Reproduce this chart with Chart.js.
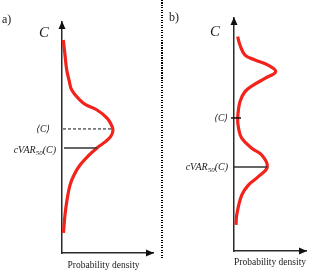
<!DOCTYPE html>
<html><head><meta charset="utf-8">
<script src="https://cdn.jsdelivr.net/npm/chart.js@4/dist/chart.umd.min.js"></script>
<style>
html,body{margin:0;padding:0;background:#fff;}
#wrap{position:relative;width:316px;height:274px;overflow:hidden;background:#fff;}
#ca{position:absolute;left:0;top:0;}
#cb{position:absolute;left:158px;top:0;}
#sep{position:absolute;left:161px;top:0;width:1.5px;height:259px;background:repeating-linear-gradient(to bottom,#000 0px,#000 1px,transparent 1px,transparent 2.5px);}
</style></head><body>
<div id="wrap">
<canvas id="ca" width="158" height="274"></canvas>
<div id="sep"></div>
<canvas id="cb" width="158" height="274"></canvas>
</div>
<script>
// ---- data (C on vertical axis, probability density on horizontal axis) ----
const panelLabels = ['a)', 'b)'];
const costAxisLabel = 'C';
const densityAxisLabel = 'Probability density';
const meanLabel = '\u27E8C\u27E9';
const cvarLabelMain = 'cVAR';
const cvarLabelSub = '50';
const cvarLabelTail = '(C)';

// panel a: single skewed peak
const costA    = [9.22, 8.57, 7.92, 7.49, 7.06, 6.62, 6.41, 6.19, 5.84, 5.58, 5.32, 5.06, 4.81, 4.55, 4.24, 3.81, 3.38, 2.94, 2.29, 1.65, 0.87];
const densityA = [0.014,0.033,0.052,0.077,0.107,0.198,0.264,0.385,0.495,0.538,0.560,0.538,0.473,0.385,0.297,0.198,0.132,0.088,0.055,0.033,0.016];
const meanA = 5.37;
const cvarA = 4.55;

// panel b: bimodal
const costB    = [9.20, 8.84, 8.41, 8.20, 7.98, 7.70, 7.41, 7.12, 6.84, 6.41, 5.70, 5.28, 4.84, 4.41, 4.12, 3.62, 3.19, 2.83, 2.40, 1.55, 1.12];
const densityB = [0.051,0.083,0.153,0.292,0.472,0.579,0.431,0.268,0.153,0.083,0.051,0.063,0.107,0.246,0.385,0.463,0.338,0.199,0.107,0.038,0.028];
const meanB = 5.71;
const cvarB = 3.61;

const costMax = 10;
const densityMax = 1;

function densityAt(costs, dens, c){
  for (let i = 0; i < costs.length - 1; i++){
    const c0 = costs[i], c1 = costs[i+1];
    if ((c <= c0 && c >= c1) || (c >= c0 && c <= c1)){
      const t = (c - c0) / (c1 - c0);
      return dens[i] + t * (dens[i+1] - dens[i]);
    }
  }
  return 0;
}

const decor = {
  id: 'decor',
  afterDraw(chart, args, o){
    const ctx = chart.ctx;
    const {left, right, top, bottom} = chart.chartArea;
    const xs = chart.scales.x, ys = chart.scales.y;
    ctx.save();
    // arrow heads
    ctx.fillStyle = '#111';
    ctx.beginPath();
    ctx.moveTo(left, top - 1); ctx.lineTo(left - 3.5, top + 7); ctx.lineTo(left + 3.5, top + 7);
    ctx.closePath(); ctx.fill();
    ctx.beginPath();
    ctx.moveTo(right + 1, bottom); ctx.lineTo(right - 7, bottom - 3.5); ctx.lineTo(right - 7, bottom + 3.5);
    ctx.closePath(); ctx.fill();

    // mean marker
    const ym = ys.getPixelForValue(o.mean);
    ctx.strokeStyle = '#111';
    ctx.lineWidth = 1;
    if (o.meanStyle === 'dashed'){
      ctx.setLineDash([3, 2]);
      ctx.beginPath();
      ctx.moveTo(left + 1, ym); ctx.lineTo(xs.getPixelForValue(densityAt(o.costs, o.dens, o.mean)), ym);
      ctx.stroke();
      ctx.setLineDash([]);
    } else {
      ctx.lineWidth = 1.5;
      ctx.beginPath();
      ctx.moveTo(left - 3, ym); ctx.lineTo(left + 7, ym);
      ctx.stroke();
    }
    // cVaR line
    const yc = ys.getPixelForValue(o.cvar);
    ctx.strokeStyle = '#333';
    ctx.lineWidth = 1.5;
    ctx.beginPath();
    ctx.moveTo(left + o.cvarStart, yc); ctx.lineTo(xs.getPixelForValue(densityAt(o.costs, o.dens, o.cvar)), yc);
    ctx.stroke();

    // texts
    ctx.fillStyle = '#1a1a1a';
    ctx.textBaseline = 'middle';
    ctx.font = '12px "Liberation Serif", serif';
    ctx.textAlign = 'left';
    ctx.fillText(o.panel, o.panelX, o.panelY);

    ctx.font = 'italic 15px "Liberation Serif", serif';
    ctx.textAlign = 'center';
    ctx.fillText(costAxisLabel, left + o.cLabelDx, o.cLabelY);

    ctx.font = '9.5px "Liberation Serif", serif';
    ctx.fillText(densityAxisLabel, left + o.titleDx, bottom + o.titleDy);

    ctx.textAlign = 'right';
    ctx.font = 'italic 9.5px "Liberation Serif", "DejaVu Serif", serif';
    ctx.fillText(meanLabel, left - o.meanGap, ym + 1);

    // cVAR_50(C) right aligned
    const rightX = left - 6;
    ctx.textAlign = 'left';
    ctx.font = 'italic 10px "Liberation Serif", serif';
    const wTail = ctx.measureText(cvarLabelTail).width;
    const wMain = ctx.measureText(cvarLabelMain).width;
    ctx.font = 'italic 7px "Liberation Serif", serif';
    const wSub = ctx.measureText(cvarLabelSub).width;
    let x0 = rightX - wTail - wSub - wMain;
    const yt = yc + o.cvarTextDy;
    ctx.font = 'italic 10px "Liberation Serif", serif';
    ctx.fillText(cvarLabelMain, x0, yt);
    ctx.font = 'italic 7px "Liberation Serif", serif';
    ctx.fillText(cvarLabelSub, x0 + wMain, yt + 3);
    ctx.font = 'italic 10px "Liberation Serif", serif';
    ctx.fillText(cvarLabelTail, x0 + wMain + wSub, yt);
    ctx.restore();
  }
};

function makeChart(id, costs, dens, pad, extra){
  const pts = costs.map((c, i) => ({x: dens[i], y: c}));
  return new Chart(document.getElementById(id), {
    type: 'scatter',
    data: { datasets: [{
      data: pts, showLine: true, pointRadius: 0, borderColor: '#f2231b',
      borderWidth: 3.2, tension: 0.4, fill: false, clip: 4
    }]},
    options: {
      responsive: false, animation: false,
      layout: { padding: pad },
      plugins: { legend: {display: false}, tooltip: {enabled: false},
        decor: Object.assign({costs: costs, dens: dens}, extra) },
      scales: {
        x: { type: 'linear', min: 0, max: densityMax,
             grid: {display: false, drawTicks: false},
             border: {display: true, color: '#2a2a2a', width: 1.5},
             ticks: {display: false} },
        y: { type: 'linear', min: 0, max: costMax,
             grid: {display: false, drawTicks: false},
             border: {display: true, color: '#2a2a2a', width: 1.5},
             ticks: {display: false} }
      }
    },
    plugins: [decor]
  });
}

makeChart('ca', costA, densityA, {left: 62, right: 5, top: 22, bottom: 21},
  {panel: panelLabels[0], panelX: 2, panelY: 20, mean: meanA, cvar: cvarA, meanStyle: 'dashed',
   cvarStart: 2, cLabelDx: -18, cLabelY: 33, titleDx: 41.5, titleDy: 12, meanGap: 12, cvarTextDy: 2});
makeChart('cb', costB, densityB, {left: 76, right: 10, top: 18, bottom: 23},
  {panel: panelLabels[1], panelX: 11, panelY: 18, mean: meanB, cvar: cvarB, meanStyle: 'tick',
   cvarStart: 0, cLabelDx: -19, cLabelY: 32, titleDx: 36, titleDy: 11, meanGap: 6, cvarTextDy: 0});
</script>
</body></html>
